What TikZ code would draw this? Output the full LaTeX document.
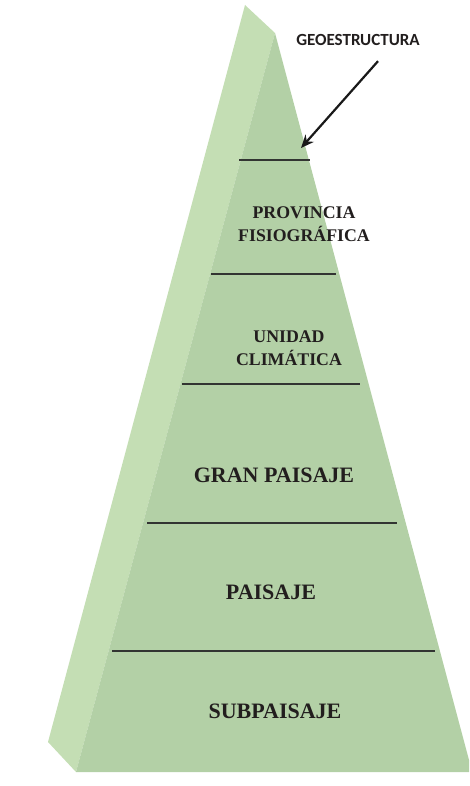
\documentclass[tikz,border=0pt]{standalone}
\usepackage{fontspec}
\setmainfont{Liberation Serif}
\newfontfamily\geofont{Carlito}
\usetikzlibrary{arrows.meta}
\definecolor{frontgreen}{RGB}{179,208,166}
\definecolor{sidegreen}{RGB}{196,222,180}
\definecolor{linegray}{RGB}{50,52,50}
\definecolor{textdark}{RGB}{34,30,30}

\begin{document}
\begin{tikzpicture}[x=1pt,y=-1pt,
  level/.style={font=\fontsize{17.8}{23}\selectfont\bfseries, text=textdark, align=center},
  biglevel/.style={level, font=\fontsize{22}{26}\selectfont\bfseries},
  divider/.style={linegray, line width=1.7pt}]
\useasboundingbox (0,0) rectangle (469,786);
\fill[sidegreen] (245,5) -- (275,33) -- (76,772) -- (48,742) -- cycle;
\fill[frontgreen] (275,33) -- (469,760) -- (469,772) -- (76,772) -- cycle;
\draw[divider] (239,160) -- (310,160);
\draw[divider] (211,274) -- (336,274);
\draw[divider] (182,384) -- (360,384);
\draw[divider] (147,523) -- (397,523);
\draw[divider] (112,651) -- (435,651);
\node[level] (PF) at (304,224) {PROVINCIA\\FISIOGRÁFICA};
\node[level] (UC) at (289,348) {UNIDAD\\CLIMÁTICA};
\node[biglevel] (GP) at (274,475) {GRAN PAISAJE};
\node[biglevel] (P) at (271,592) {PAISAJE};
\node[biglevel] (SP) at (275,711) {SUBPAISAJE};
\node[font=\geofont\fontsize{17}{20}\selectfont\bfseries, text=textdark] (GEO) at (358,40) {GEOESTRUCTURA};
\coordinate (GEOtip) at (301,148);
\draw[-{Stealth[length=13pt,width=11pt]}, line width=2.2pt, black!90] ([shift={(20,12)}]GEO.south) -- (GEOtip);
\end{tikzpicture}
\end{document}
